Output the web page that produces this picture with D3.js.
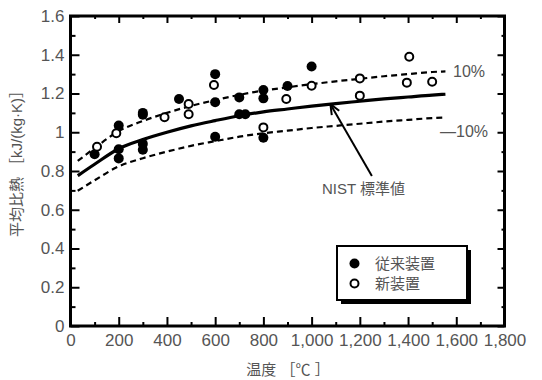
<!DOCTYPE html>
<meta charset="utf-8">
<style>
    body { margin: 0; background: #fff; }
    svg text { font-family: "Liberation Sans", "Noto Sans CJK JP", sans-serif; fill: #555; }
</style>
<script src="https://d3js.org/d3.v7.min.js"></script>
<div id="chart"></div>
<script>

// 従来装置 (filled circles)
var oldTemp = [100, 200, 200, 200, 300, 300, 300, 300, 450, 600, 600, 600, 700, 700, 725, 800, 800, 800, 900, 1000];
var oldCp   = [0.886, 0.912, 0.865, 1.035, 1.10, 1.09, 0.94, 0.91, 1.172, 1.30, 1.155, 0.977, 1.18, 1.093, 1.093, 1.218, 1.175, 0.972, 1.239, 1.339];

// 新装置 (open circles)
var newTemp = [110, 190, 390, 490, 490, 595, 800, 895, 1000, 1200, 1200, 1405, 1395, 1500];
var newCp   = [0.925, 0.995, 1.077, 1.146, 1.093, 1.244, 1.025, 1.172, 1.240, 1.278, 1.189, 1.39, 1.256, 1.261];

// NIST standard curve and +/-10% bands
var curveTemp = [30, 100, 200, 300, 400, 500, 600, 700, 800, 900, 1000, 1100, 1200, 1300, 1400, 1500, 1555];
var nistCp    = [0.776, 0.835, 0.915, 0.962, 1.0, 1.033, 1.06, 1.085, 1.105, 1.12, 1.135, 1.148, 1.16, 1.172, 1.182, 1.192, 1.196];
var upperCp   = [0.852, 0.918, 1.006, 1.058, 1.10, 1.136, 1.166, 1.193, 1.215, 1.232, 1.248, 1.263, 1.276, 1.289, 1.30, 1.311, 1.314];
var lowerCp   = [0.698, 0.752, 0.824, 0.866, 0.90, 0.930, 0.954, 0.977, 0.995, 1.008, 1.022, 1.033, 1.044, 1.055, 1.064, 1.073, 1.076];

var xMajor = [0, 200, 400, 600, 800, 1000, 1200, 1400, 1600, 1800];
var yMajor = [0, 0.2, 0.4, 0.6, 0.8, 1.0, 1.2, 1.4, 1.6];

var W = 542, H = 380;
var margin = {top: 16, right: 37.5, bottom: 54, left: 70.5};
var width = W - margin.left - margin.right,
    height = H - margin.top - margin.bottom;

var svg = d3.select("#chart").append("svg")
    .attr("width", W).attr("height", H)
    .append("g")
    .attr("transform", "translate(" + margin.left + "," + margin.top + ")");

var x = d3.scaleLinear().domain([0, 1800]).range([0, width]);
var y = d3.scaleLinear().domain([0, 1.6]).range([height, 0]);

var xMinor = d3.range(100, 1800, 200);
var yMinor = d3.range(0.1, 1.6, 0.2);

function styleAxis(g) {
    g.select(".domain").remove();
    g.selectAll(".tick line").attr("stroke", "#000").attr("stroke-width", 2);
    g.selectAll(".tick text").style("font-size", "17px").attr("fill", "#555");
}

// bottom
svg.append("g").attr("transform", "translate(0," + height + ")")
    .call(d3.axisBottom(x).tickValues(xMajor).tickSize(-9).tickPadding(8).tickFormat(d3.format(",")))
    .call(styleAxis);
svg.append("g").attr("transform", "translate(0," + height + ")")
    .call(d3.axisBottom(x).tickValues(xMinor).tickSize(-4).tickFormat(""))
    .call(styleAxis);
// top
svg.append("g")
    .call(d3.axisTop(x).tickValues(xMajor).tickSize(-7).tickFormat(""))
    .call(styleAxis);
svg.append("g")
    .call(d3.axisTop(x).tickValues(xMinor).tickSize(-3).tickFormat(""))
    .call(styleAxis);
// left
svg.append("g")
    .call(d3.axisLeft(y).tickValues(yMajor).tickSize(-9).tickPadding(6).tickFormat(d3.format("")))
    .call(styleAxis);
svg.append("g")
    .call(d3.axisLeft(y).tickValues(yMinor).tickSize(-5).tickFormat(""))
    .call(styleAxis);
// right
svg.append("g").attr("transform", "translate(" + width + ",0)")
    .call(d3.axisRight(y).tickValues(yMajor).tickSize(-7).tickFormat(""))
    .call(styleAxis);
svg.append("g").attr("transform", "translate(" + width + ",0)")
    .call(d3.axisRight(y).tickValues(yMinor).tickSize(-3).tickFormat(""))
    .call(styleAxis);

// frame
svg.append("rect")
    .attr("width", width).attr("height", height)
    .attr("fill", "none").attr("stroke", "#000").attr("stroke-width", 3);

// axis titles
svg.append("text")
    .attr("transform", "translate(" + (22 - margin.left) + "," + (160 - margin.top) + ") rotate(-90)")
    .attr("text-anchor", "middle")
    .style("font-size", "15px")
    .text("平均比熱 ［kJ/(kg·K)］");

svg.append("text")
    .attr("x", 288 - margin.left).attr("y", 375 - margin.top)
    .attr("text-anchor", "middle")
    .style("font-size", "15px")
    .text("温度 ［℃ ］");

// curves
var line = d3.line()
    .x(function (d) { return x(d[0]); })
    .y(function (d) { return y(d[1]); })
    .curve(d3.curveMonotoneX);

svg.append("path").datum(d3.zip(curveTemp, upperCp))
    .attr("d", line).attr("fill", "none").attr("stroke", "#000")
    .attr("stroke-width", 2.2).attr("stroke-dasharray", "6,4");
svg.append("path").datum(d3.zip(curveTemp, lowerCp))
    .attr("d", line).attr("fill", "none").attr("stroke", "#000")
    .attr("stroke-width", 2.2).attr("stroke-dasharray", "6,4");
svg.append("path").datum(d3.zip(curveTemp, nistCp))
    .attr("d", line).attr("fill", "none").attr("stroke", "#000")
    .attr("stroke-width", 3.2);

// points
svg.selectAll("circle.old")
    .data(d3.zip(oldTemp, oldCp))
    .enter().append("circle")
    .attr("class", "old")
    .attr("cx", function (d) { return x(d[0]); })
    .attr("cy", function (d) { return y(d[1]); })
    .attr("r", 5)
    .attr("fill", "#000");

svg.selectAll("circle.new")
    .data(d3.zip(newTemp, newCp))
    .enter().append("circle")
    .attr("class", "new")
    .attr("cx", function (d) { return x(d[0]); })
    .attr("cy", function (d) { return y(d[1]); })
    .attr("r", 4)
    .attr("fill", "#fff")
    .attr("stroke", "#000")
    .attr("stroke-width", 2);

// band labels
svg.append("text")
    .attr("x", 453 - margin.left).attr("y", 77 - margin.top)
    .style("font-size", "16px").text("10%");
svg.append("text")
    .attr("x", 440 - margin.left).attr("y", 137 - margin.top)
    .style("font-size", "16px").text("—10%");

// NIST annotation with arrow
var tip = [x(1078), y(1.145)], tail = [x(1250), y(0.774)];
svg.append("line")
    .attr("x1", tail[0]).attr("y1", tail[1])
    .attr("x2", tip[0]).attr("y2", tip[1])
    .attr("stroke", "#000").attr("stroke-width", 2);
var ang = Math.atan2(tail[1] - tip[1], tail[0] - tip[0]);
[0.4, -0.4].forEach(function (a) {
    svg.append("line")
        .attr("x1", tip[0]).attr("y1", tip[1])
        .attr("x2", tip[0] + 11 * Math.cos(ang + a))
        .attr("y2", tip[1] + 11 * Math.sin(ang + a))
        .attr("stroke", "#000").attr("stroke-width", 2);
});
svg.append("text")
    .attr("x", x(1215)).attr("y", y(0.681))
    .attr("text-anchor", "middle")
    .style("font-size", "15px")
    .text("NIST  標準値");

// legend
var lg = svg.append("g").attr("transform", "translate(" + (337 - margin.left) + "," + (246 - margin.top) + ")");
lg.append("rect").attr("x", 4).attr("y", 4).attr("width", 130).attr("height", 54).attr("fill", "#000");
lg.append("rect").attr("width", 130).attr("height", 54)
    .attr("fill", "#fff").attr("stroke", "#000").attr("stroke-width", 2);
var legendKeys = ["従来装置", "新装置"];
legendKeys.forEach(function (k, i) {
    lg.append("circle")
        .attr("cx", 17.5).attr("cy", 17.5 + i * 20)
        .attr("r", i === 0 ? 5 : 4)
        .attr("fill", i === 0 ? "#000" : "#fff")
        .attr("stroke", "#000").attr("stroke-width", i === 0 ? 0 : 2);
    lg.append("text")
        .attr("x", 38).attr("y", 17.5 + i * 20)
        .attr("dy", "0.35em")
        .style("font-size", "15px")
        .text(k);
});

</script>
</html>
